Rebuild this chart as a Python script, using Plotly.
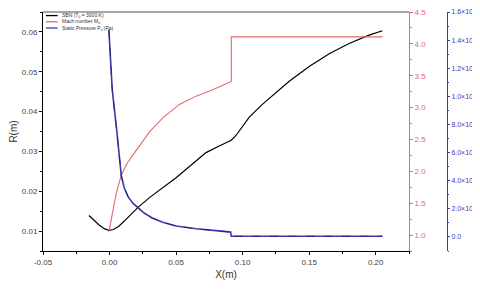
import plotly.graph_objects as go

# ---- data ----
x_r = [-0.0155, -0.012, -0.008, -0.004, -0.0005, 0.003, 0.007, 0.012, 0.0165, 0.0212, 0.030, 0.040,
       0.050, 0.060, 0.0725, 0.082, 0.0915, 0.095, 0.100, 0.105, 0.1148, 0.125, 0.135, 0.150, 0.165,
       0.180, 0.195, 0.205]
r_vals = [0.0139, 0.0128, 0.0116, 0.0106, 0.0102, 0.0104, 0.0112, 0.0128, 0.0143, 0.0159, 0.0184, 0.0208,
          0.0234, 0.0262, 0.0297, 0.0313, 0.0328, 0.0340, 0.0362, 0.0386, 0.0418, 0.0448, 0.0476, 0.0513,
          0.0545, 0.0571, 0.0592, 0.0603]

x_m = [-0.0005, 0.002, 0.005, 0.0088, 0.013, 0.0187, 0.025, 0.030, 0.040, 0.0525, 0.065, 0.0775,
       0.0915, 0.0915, 0.205]
mach = [1.05, 1.35, 1.65, 1.94, 2.12, 2.29, 2.48, 2.62, 2.84, 3.05, 3.18, 3.28, 3.41, 4.11, 4.11]

x_p = [-0.0005, 0.002, 0.0055, 0.007, 0.0088, 0.011, 0.014, 0.0175, 0.0212, 0.026, 0.032, 0.040,
       0.050, 0.065, 0.080, 0.091, 0.0915, 0.205]
p_vals = [1.474e6, 1.05e6, 0.749e6, 0.599e6, 0.438e6, 0.35e6, 0.285e6, 0.24e6, 0.207e6, 0.17e6,
          0.135e6, 0.104e6, 0.078e6, 0.058e6, 0.045e6, 0.0345e6, 0.005e6, 0.005e6]

p_tickvals = [0, 2e5, 4e5, 6e5, 8e5, 1e6, 1.2e6, 1.4e6, 1.6e6]
p_ticktext = ["0.0", "2.0×10<sup>5</sup>", "4.0×10<sup>5</sup>", "6.0×10<sup>5</sup>", "8.0×10<sup>5</sup>",
              "1.0×10<sup>6</sup>", "1.2×10<sup>6</sup>", "1.4×10<sup>6</sup>", "1.6×10<sup>6</sup>"]

legend_names = ["SBN (T<sub>0</sub> = 3000 K)", "Mach number M<sub>a</sub>", "Static Pressure P<sub>s</sub> (Pa)"]

RED = "#e06a6a"
BLUE = "#3a3ab4"
FONT = "Liberation Sans, Arial, sans-serif"
legend_colors = ["black", RED, BLUE]

fig = go.Figure()

fig.add_trace(go.Scatter(x=x_r, y=r_vals, mode="lines", line=dict(color="black", width=1.2),
                         name=legend_names[0]))
fig.add_trace(go.Scatter(x=x_m, y=mach, mode="lines", line=dict(color=RED, width=1.1), yaxis="y2",
                         name=legend_names[1]))
fig.add_trace(go.Scatter(x=x_p, y=p_vals, mode="lines", line=dict(color=BLUE, width=1.6), yaxis="y3",
                         name=legend_names[2]))
# dark dash overlay on the pressure curve
fig.add_trace(go.Scatter(x=x_p, y=p_vals, mode="lines", line=dict(color="#1a1a50", width=0.7, dash="dash"),
                         yaxis="y3", hoverinfo="skip"))

tickfont = dict(family=FONT, size=8, color="#444")

# page has an 8px body margin, so the figure is 8px smaller than the window
fig.update_layout(
    width=472, height=288,
    margin=dict(l=35, r=33, t=4, b=45, pad=0),
    plot_bgcolor="white", paper_bgcolor="white",
    font=dict(family=FONT, size=8, color="#333"),
    showlegend=False,
    xaxis=dict(
        domain=[0, 366 / 404], range=[-0.05, 0.225], automargin=False,
        tickvals=[-0.05, 0, 0.05, 0.1, 0.15, 0.2],
        ticktext=["-0.05", "0.00", "0.05", "0.10", "0.15", "0.20"],
        ticks="outside", ticklen=3, tickcolor="black",
        minor=dict(ticks="outside", ticklen=2, dtick=0.025, tick0=0, tickcolor="black"),
        showline=True, linecolor="black", linewidth=1,
        showgrid=False, zeroline=False, tickfont=tickfont,
        title=dict(text="X(m)", font=dict(size=10, color="#333"), standoff=5),
    ),
    yaxis=dict(
        range=[0.005, 0.065], automargin=False,
        tickvals=[0.01, 0.02, 0.03, 0.04, 0.05, 0.06],
        ticktext=["0.01", "0.02", "0.03", "0.04", "0.05", "0.06"],
        ticks="outside", ticklen=3, tickcolor="black",
        minor=dict(ticks="outside", ticklen=2, dtick=0.005, tick0=0, tickcolor="black"),
        showline=True, linecolor="black", linewidth=1,
        showgrid=False, zeroline=False, tickfont=tickfont,
        title=dict(text="R(m)", font=dict(size=10, color="#333"), standoff=5),
    ),
    yaxis2=dict(
        overlaying="y", side="right", anchor="x", range=[0.75, 4.5], automargin=False,
        tickvals=[1.0, 1.5, 2.0, 2.5, 3.0, 3.5, 4.0, 4.5],
        ticktext=["1.0", "1.5", "2.0", "2.5", "3.0", "3.5", "4.0", "4.5"],
        ticks="outside", ticklen=3, tickcolor=RED,
        minor=dict(ticks="outside", ticklen=2, dtick=0.25, tick0=0, tickcolor=RED),
        showline=True, linecolor=RED, linewidth=1, ticklabeloverflow="allow",
        showgrid=False, zeroline=False, tickfont=dict(family=FONT, size=8, color=RED),
    ),
    yaxis3=dict(
        overlaying="y", side="right", anchor="free", position=1.0, range=[-1e5, 1.6e6], automargin=False,
        tickvals=p_tickvals, ticktext=p_ticktext,
        ticks="outside", ticklen=2, tickcolor=BLUE,
        minor=dict(ticks="outside", ticklen=1, dtick=1e5, tick0=0, tickcolor=BLUE),
        showline=True, linecolor=BLUE, linewidth=1, ticklabeloverflow="allow",
        showgrid=False, zeroline=False, tickfont=dict(family=FONT, size=7, color=BLUE),
    ),
)

# top frame line of the plot area
fig.add_shape(type="line", xref="x domain", yref="y domain", x0=0, x1=1, y0=1, y1=1,
              line=dict(color="#888", width=1.5))

# compact legend in the top-left corner
for i, (name, col) in enumerate(zip(legend_names, legend_colors)):
    yy = 0.985 - i * 0.026
    fig.add_shape(type="line", xref="x domain", yref="y domain", x0=0.008, x1=0.04, y0=yy, y1=yy,
                  line=dict(color=col, width=1.3))
    fig.add_annotation(xref="x domain", yref="y domain", x=0.046, y=yy, text=name, showarrow=False,
                       xanchor="left", yanchor="middle", font=dict(size=5, color="#333"))

fig.write_html("out.html")
